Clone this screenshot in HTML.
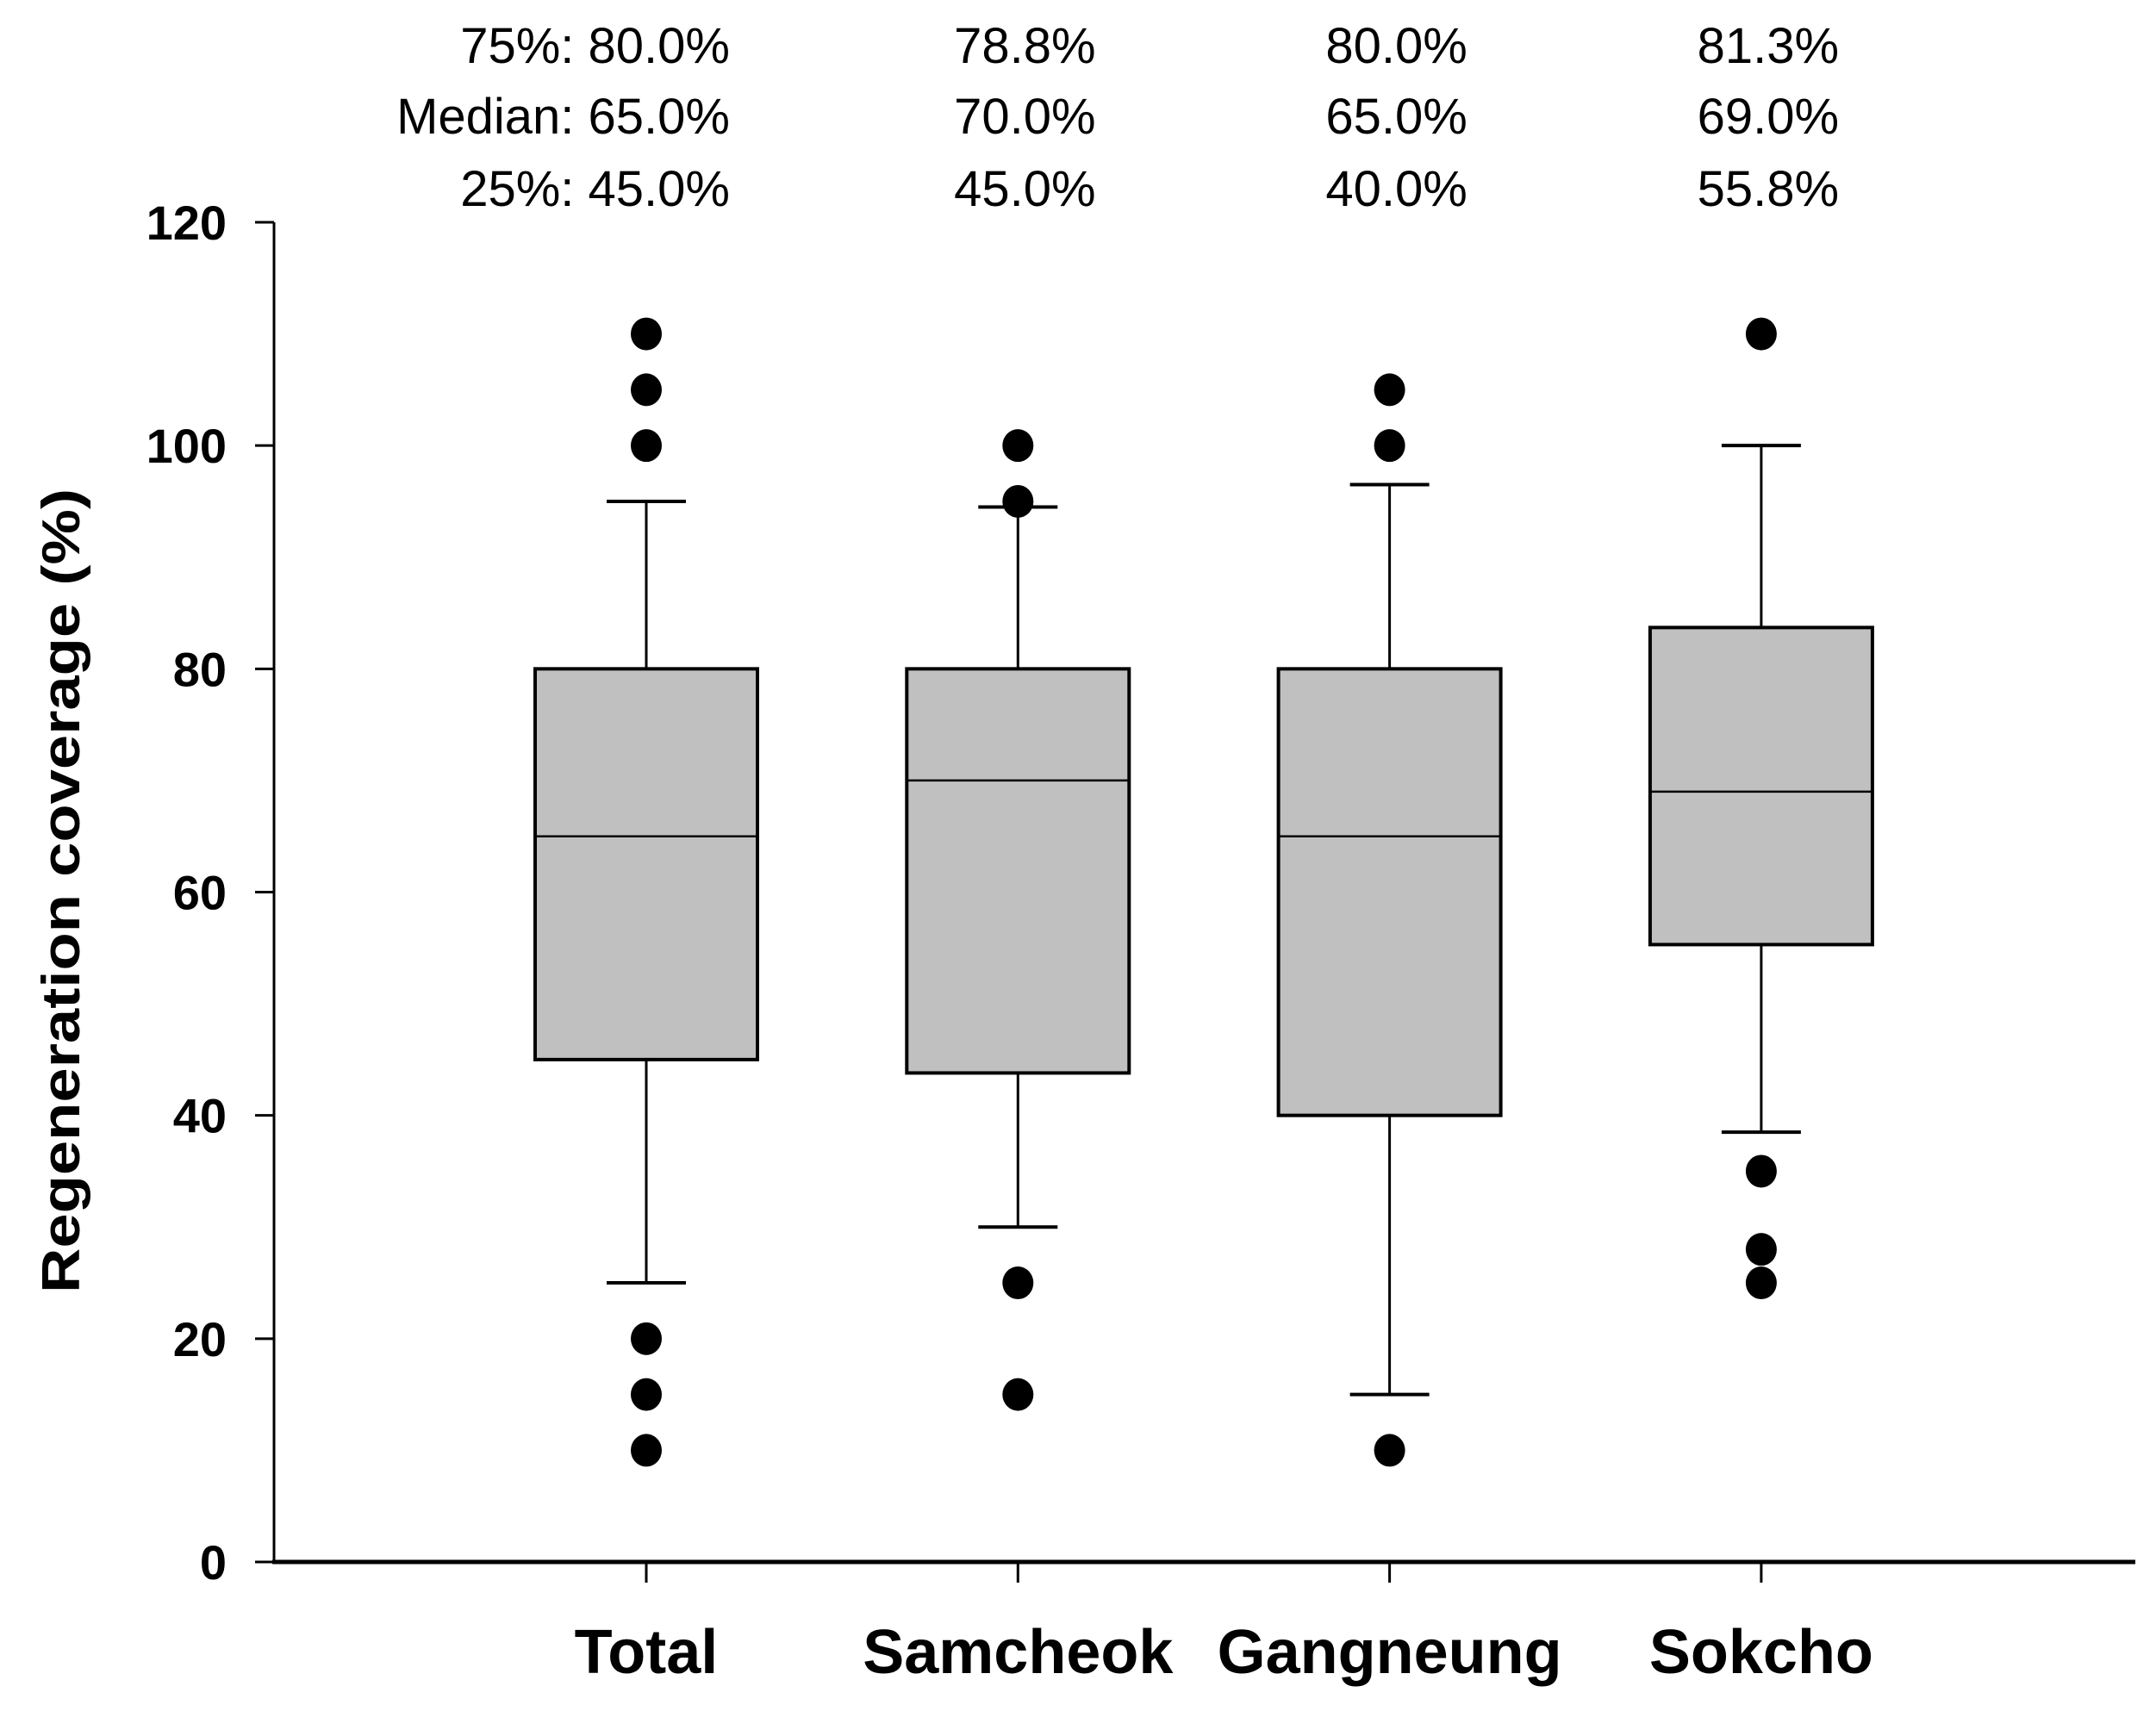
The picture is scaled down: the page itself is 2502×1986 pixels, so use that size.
<!DOCTYPE html>
<html><head><meta charset="utf-8"><style>
html,body{margin:0;padding:0;background:#fff;}
svg{display:block;font-family:"Liberation Sans",Arial,sans-serif;}
</style></head><body>
<svg id="chart" width="2502" height="1986" viewBox="0 0 2502 1986" xmlns="http://www.w3.org/2000/svg"></svg>
<script>
const categories = ["Total","Samcheok","Gangneung","Sokcho"];
const q1 = [45, 43.8, 40, 55.3];
const medians = [65, 70, 65, 69];
const q3 = [80, 80, 80, 83.7];
const whiskerLow = [25, 30, 15, 38.5];
const whiskerHigh = [95, 94.5, 96.5, 100];
const outliers = [[110,105,100,20,15,10],[100,95,25,15],[105,100,10],[110,35,28,25]];
const yTicks = [0,20,40,60,80,100,120];
const label75 = ["75%: 80.0%","78.8%","80.0%","81.3%"];
const labelMed = ["Median: 65.0%","70.0%","65.0%","69.0%"];
const label25 = ["25%: 45.0%","45.0%","40.0%","55.8%"];

const NS = "http://www.w3.org/2000/svg";
const svg = document.getElementById("chart");
const axisX = 318, y0px = 1813, y120px = 258;
const xPos = i => 750 + i * 431.3;
const y = v => y0px - (v / 120) * (y0px - y120px);
function el(tag, attrs, parent) {
  const e = document.createElementNS(NS, tag);
  for (const k in attrs) e.setAttribute(k, attrs[k]);
  (parent || svg).appendChild(e);
  return e;
}
let a = el("line",{x1:axisX,y1:y(120),x2:axisX,y2:y0px+2,stroke:"#000","stroke-width":3});


a = el("line",{x1:axisX-2,y1:y0px,x2:2478,y2:y0px,stroke:"#000","stroke-width":5});


yTicks.forEach(t => {
  const tk = el("line",{x1:axisX-22,y1:y(t),x2:axisX,y2:y(t),stroke:"#000","stroke-width":3});
  
  
  const tl = el("text",{x:263,y:y(t)+20,"text-anchor":"end","font-size":56,"font-weight":"bold"});
  tl.textContent = t;
  
  
});
const yt = el("text",{x:0,y:0,"text-anchor":"middle","font-size":62,"font-weight":"bold",transform:"translate(92,1034) rotate(-90)",textLength:934,lengthAdjust:"spacingAndGlyphs"});
yt.textContent = "Regeneration coverage (%)";



categories.forEach((c, i) => {
  const cx = xPos(i), hw = 129, cap = 46;
  const g = el("g",{});
  
  
  el("line",{x1:cx,y1:y(q3[i]),x2:cx,y2:y(whiskerHigh[i]),stroke:"#000","stroke-width":3},g);
  el("line",{x1:cx,y1:y(q1[i]),x2:cx,y2:y(whiskerLow[i]),stroke:"#000","stroke-width":3},g);
  el("line",{x1:cx-cap,y1:y(whiskerHigh[i]),x2:cx+cap,y2:y(whiskerHigh[i]),stroke:"#000","stroke-width":4},g);
  el("line",{x1:cx-cap,y1:y(whiskerLow[i]),x2:cx+cap,y2:y(whiskerLow[i]),stroke:"#000","stroke-width":4},g);
  el("rect",{x:cx-hw,y:y(q3[i]),width:hw*2,height:y(q1[i])-y(q3[i]),fill:"#c0c0c0",stroke:"#000","stroke-width":4},g);
  el("line",{x1:cx-hw,y1:y(medians[i]),x2:cx+hw,y2:y(medians[i]),stroke:"#000","stroke-width":2.5},g);
  outliers[i].forEach(v => {
    const d = el("ellipse",{cx:cx,cy:y(v),rx:18,ry:19,fill:"#000"},g);
    
    
  });
  const tk = el("line",{x1:cx,y1:y0px,x2:cx,y2:y0px+24,stroke:"#000","stroke-width":3});
  
  
  const cl = el("text",{x:cx,y:1942,"text-anchor":"middle","font-size":72,"font-weight":"bold"});
  cl.textContent = c;
  
  
  const anchor = i === 0 ? "end" : "middle";
  const tx = i === 0 ? 847 : cx + 8;
  [[label75,73],[labelMed,155],[label25,239]].forEach(([arr,yy]) => {
    const s = el("text",{x:tx,y:yy,"text-anchor":anchor,"font-size":58});
    s.textContent = arr[i];
    
    
  });
});
</script>
</body></html>
